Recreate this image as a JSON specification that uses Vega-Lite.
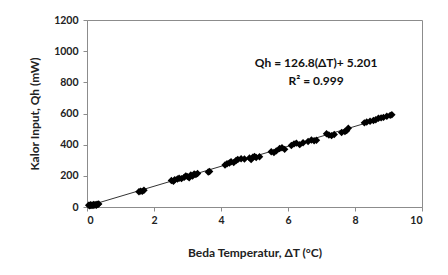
{
  "$schema": "https://vega.github.io/schema/vega-lite/v6.json",
  "width": 335,
  "height": 187,
  "autosize": {"type": "none"},
  "padding": {"left": 87, "top": 20, "right": 26, "bottom": 68},
  "background": "white",
  "config": {
    "view": {"stroke": "#8c8c8c", "strokeWidth": 1},
    "font": "Lato",
    "axis": {
      "grid": false,
      "domainColor": "#8c8c8c",
      "tickColor": "#8c8c8c",
      "tickSize": 4,
      "labelFont": "Lato",
      "labelFontWeight": "bold",
      "labelFontSize": 10.5,
      "labelColor": "#222",
      "titleFont": "Lato",
      "titleFontWeight": "bold",
      "titleFontSize": 12,
      "titleColor": "#222"
    }
  },
  "datasets": {
    "pts": [
      {"dT": 0.05, "Qh": 12}, {"dT": 0.08, "Qh": 8}, {"dT": 0.1, "Qh": 15}, {"dT": 0.12, "Qh": 10},
      {"dT": 0.15, "Qh": 13}, {"dT": 0.18, "Qh": 9}, {"dT": 0.2, "Qh": 16}, {"dT": 0.22, "Qh": 12},
      {"dT": 0.25, "Qh": 14}, {"dT": 0.28, "Qh": 11}, {"dT": 0.3, "Qh": 18}, {"dT": 0.33, "Qh": 17},
      {"dT": 0.35, "Qh": 20},
      {"dT": 1.55, "Qh": 98}, {"dT": 1.6, "Qh": 102}, {"dT": 1.65, "Qh": 100}, {"dT": 1.7, "Qh": 108},
      {"dT": 2.52, "Qh": 170}, {"dT": 2.58, "Qh": 165}, {"dT": 2.62, "Qh": 175}, {"dT": 2.7, "Qh": 180},
      {"dT": 2.75, "Qh": 185}, {"dT": 2.82, "Qh": 182}, {"dT": 2.9, "Qh": 190}, {"dT": 2.95, "Qh": 200},
      {"dT": 3.0, "Qh": 195}, {"dT": 3.05, "Qh": 188}, {"dT": 3.1, "Qh": 205}, {"dT": 3.15, "Qh": 198},
      {"dT": 3.2, "Qh": 212}, {"dT": 3.25, "Qh": 208}, {"dT": 3.3, "Qh": 215},
      {"dT": 3.62, "Qh": 225}, {"dT": 3.66, "Qh": 228},
      {"dT": 4.12, "Qh": 270}, {"dT": 4.18, "Qh": 278}, {"dT": 4.25, "Qh": 282}, {"dT": 4.3, "Qh": 290},
      {"dT": 4.38, "Qh": 285}, {"dT": 4.45, "Qh": 298}, {"dT": 4.5, "Qh": 305}, {"dT": 4.6, "Qh": 310},
      {"dT": 4.7, "Qh": 308}, {"dT": 4.85, "Qh": 315}, {"dT": 4.9, "Qh": 305}, {"dT": 4.95, "Qh": 320},
      {"dT": 5.0, "Qh": 325}, {"dT": 5.05, "Qh": 318}, {"dT": 5.15, "Qh": 322},
      {"dT": 5.5, "Qh": 355}, {"dT": 5.58, "Qh": 350}, {"dT": 5.65, "Qh": 360}, {"dT": 5.75, "Qh": 375},
      {"dT": 5.82, "Qh": 380}, {"dT": 5.9, "Qh": 370},
      {"dT": 6.1, "Qh": 395}, {"dT": 6.18, "Qh": 405}, {"dT": 6.25, "Qh": 410}, {"dT": 6.35, "Qh": 400},
      {"dT": 6.45, "Qh": 412}, {"dT": 6.6, "Qh": 420}, {"dT": 6.7, "Qh": 430}, {"dT": 6.78, "Qh": 425},
      {"dT": 6.85, "Qh": 428},
      {"dT": 7.15, "Qh": 470}, {"dT": 7.22, "Qh": 462}, {"dT": 7.3, "Qh": 458}, {"dT": 7.38, "Qh": 465},
      {"dT": 7.6, "Qh": 478}, {"dT": 7.7, "Qh": 485}, {"dT": 7.75, "Qh": 490}, {"dT": 7.8, "Qh": 505},
      {"dT": 8.28, "Qh": 540}, {"dT": 8.35, "Qh": 545}, {"dT": 8.45, "Qh": 550}, {"dT": 8.55, "Qh": 555},
      {"dT": 8.62, "Qh": 560}, {"dT": 8.7, "Qh": 570}, {"dT": 8.78, "Qh": 572}, {"dT": 8.85, "Qh": 575},
      {"dT": 8.95, "Qh": 582}, {"dT": 9.05, "Qh": 588}, {"dT": 9.1, "Qh": 592}
    ],
    "trend": [
      {"dT": 0.05, "Qh": 8}, {"dT": 9.1, "Qh": 588}
    ],
    "notes": [
      {"dT": 6.84, "Qh": 926, "label": "Qh = 126.8(ΔT)+ 5.201"},
      {"dT": 6.84, "Qh": 811, "label": "R² = 0.999"}
    ]
  },
  "encoding": {
    "x": {
      "field": "dT", "type": "quantitative",
      "scale": {"domain": [0, 10], "nice": false, "zero": false},
      "axis": {"values": [0, 2, 4, 6, 8, 10], "format": "d", "title": "Beda Temperatur, ΔT (°C)", "titlePadding": 22, "labelPadding": 4}
    },
    "y": {
      "field": "Qh", "type": "quantitative",
      "scale": {"domain": [0, 1200], "nice": false},
      "axis": {"values": [0, 200, 400, 600, 800, 1000, 1200], "format": "d", "title": "Kalor Input, Qh (mW)", "titlePadding": 12, "labelPadding": 5}
    }
  },
  "layer": [
    {
      "data": {"name": "trend"},
      "mark": {"type": "line", "color": "#333", "strokeWidth": 1}
    },
    {
      "data": {"name": "pts"},
      "mark": {"type": "point", "shape": "diamond", "filled": true, "color": "#000", "size": 55, "opacity": 1}
    },
    {
      "data": {"name": "notes"},
      "mark": {"type": "text", "font": "Lato", "fontWeight": "bold", "fontSize": 12, "color": "#111", "align": "center", "baseline": "middle"},
      "encoding": {"text": {"field": "label"}}
    }
  ]
}
